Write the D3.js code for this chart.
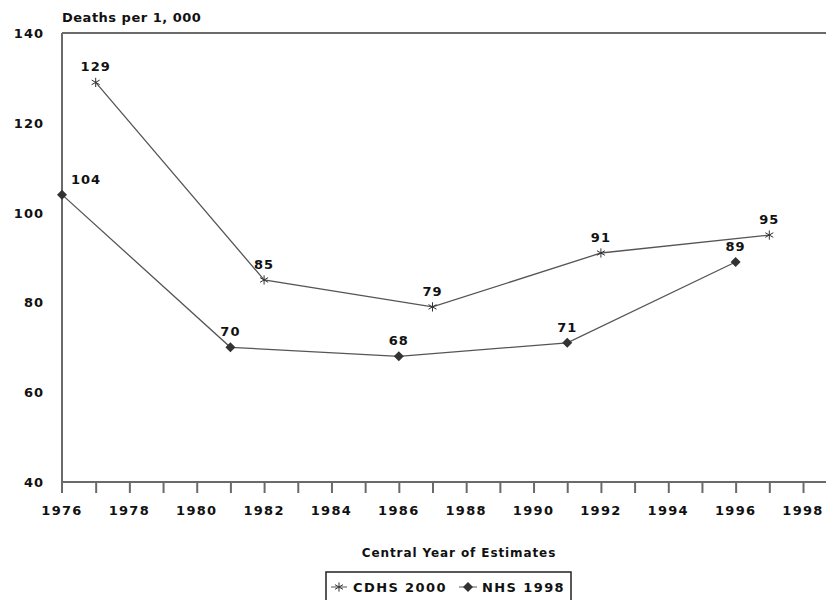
<!DOCTYPE html>
<html><head><meta charset="utf-8">
<script src="https://cdn.jsdelivr.net/npm/d3@7"></script>
<style>
body{margin:0;background:#fff;}
text{font-family:"DejaVu Sans",sans-serif;fill:#111;}
</style></head>
<body><svg id="c" width="826" height="600"></svg>
<script>
const cdhsYears = [1977, 1982, 1987, 1992, 1997];
const cdhsValues = [129, 85, 79, 91, 95];
const nhsYears = [1976, 1981, 1986, 1991, 1996];
const nhsValues = [104, 70, 68, 71, 89];
const xTicks = [1976,1978,1980,1982,1984,1986,1988,1990,1992,1994,1996,1998];
const yTicks = [40,60,80,100,120,140];
const seriesNames = ["CDHS 2000", "NHS 1998"];

(function(){
const svg = d3.select("#c");
const pLeft = 62, pTop = 33, pBottom = 482;
const x = d3.scaleLinear().domain([1976, 1998]).range([pLeft, 803]);
const y = d3.scaleLinear().domain([40, 140]).range([pBottom, pTop]);
const axisColor = "#6a6a6a";

svg.append("line").attr("x1", pLeft).attr("x2", 826).attr("y1", pTop).attr("y2", pTop)
  .attr("stroke", axisColor).attr("stroke-width", 2);
svg.append("line").attr("x1", pLeft).attr("x2", pLeft).attr("y1", pTop).attr("y2", 493)
  .attr("stroke", axisColor).attr("stroke-width", 2);
svg.append("line").attr("x1", pLeft).attr("x2", 826).attr("y1", pBottom).attr("y2", pBottom)
  .attr("stroke", axisColor).attr("stroke-width", 2);

const xAxis = d3.axisBottom(x).tickValues(d3.range(1977, 1999)).tickSize(11).tickFormat("");
const gx = svg.append("g").attr("transform", `translate(0,${pBottom})`).call(xAxis);
gx.select(".domain").remove();
gx.selectAll(".tick line").attr("stroke", axisColor).attr("stroke-width", 2);

svg.append("g").selectAll("text").data(xTicks).join("text")
  .attr("x", d => x(d)).attr("y", 515).attr("text-anchor", "middle")
  .style("font-size", "13px").style("font-weight", "bold").style("letter-spacing", "1.3px")
  .text(d => d);

svg.append("g").selectAll("text").data(yTicks).join("text")
  .attr("x", 44).attr("y", d => y(d) + 5).attr("text-anchor", "end")
  .style("font-size", "13px").style("font-weight", "bold").style("letter-spacing", "1px")
  .text(d => d);

svg.append("text").attr("x", pLeft).attr("y", 22)
  .style("font-size", "13px").style("font-weight", "bold").style("letter-spacing", "0.5px")
  .text("Deaths per 1, 000");

svg.append("text").attr("x", 459).attr("y", 557).attr("text-anchor", "middle")
  .style("font-size", "12px").style("font-weight", "bold").style("letter-spacing", "0.9px")
  .text("Central Year of Estimates");

const line = d3.line().x(d => x(d[0])).y(d => y(d[1]));
const cdhs = cdhsYears.map((yr, i) => [yr, cdhsValues[i]]);
const nhs = nhsYears.map((yr, i) => [yr, nhsValues[i]]);
const lineColor = "#555";

svg.append("path").attr("d", line(cdhs)).attr("fill", "none").attr("stroke", lineColor).attr("stroke-width", 1.3);
svg.append("path").attr("d", line(nhs)).attr("fill", "none").attr("stroke", lineColor).attr("stroke-width", 1.3);

const star = d3.symbol().type(d3.symbolAsterisk).size(60);
const diamond = d3.symbol().type(d3.symbolSquare).size(50);

svg.append("g").selectAll("path").data(cdhs).join("path")
  .attr("d", star).attr("transform", d => `translate(${x(d[0])},${y(d[1])})`)
  .attr("fill", "none").attr("stroke", "#333").attr("stroke-width", 1);
svg.append("g").selectAll("path").data(nhs).join("path")
  .attr("d", diamond).attr("transform", d => `translate(${x(d[0])},${y(d[1])}) rotate(45)`)
  .attr("fill", "#333");

const lab = (data) => svg.append("g").selectAll("text").data(data).join("text")
  .attr("x", d => x(d[0]) + (d[0] === 1976 ? 24 : 0))
  .attr("y", d => y(d[1]) - 11).attr("text-anchor", "middle")
  .style("font-size", "13px").style("font-weight", "bold").style("letter-spacing", "1px")
  .text(d => d[1]);
lab(cdhs); lab(nhs);

const lg = svg.append("g");
lg.append("rect").attr("x", 326).attr("y", 572).attr("width", 245).attr("height", 30)
  .attr("fill", "#fff").attr("stroke", "#222").attr("stroke-width", 1.5);
lg.append("line").attr("x1", 331).attr("x2", 347).attr("y1", 587).attr("y2", 587).attr("stroke", lineColor);
lg.append("path").attr("d", star).attr("transform", "translate(339,587)").attr("fill", "none").attr("stroke", "#333");
lg.append("text").attr("x", 353).attr("y", 592).style("font-size", "13px").style("font-weight", "bold").style("letter-spacing", "1.4px").text(seriesNames[0]);
lg.append("line").attr("x1", 459).attr("x2", 477).attr("y1", 587).attr("y2", 587).attr("stroke", lineColor);
lg.append("path").attr("d", diamond).attr("transform", "translate(468,587) rotate(45)").attr("fill", "#333");
lg.append("text").attr("x", 482).attr("y", 592).style("font-size", "13px").style("font-weight", "bold").style("letter-spacing", "1.4px").text(seriesNames[1]);
})();
</script></body></html>
